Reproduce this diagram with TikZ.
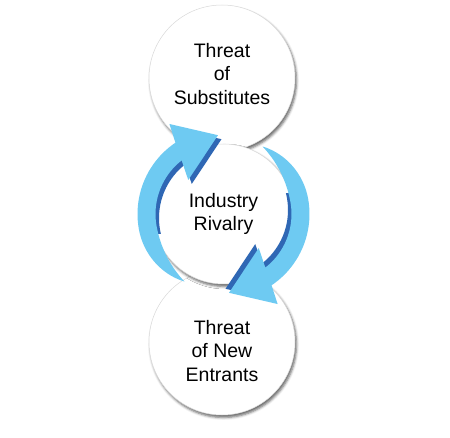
\documentclass[tikz,border=0pt]{standalone}
\usepackage{fontspec}
\setmainfont{Liberation Sans}
\usetikzlibrary{shadows.blur}

\definecolor{arrowlight}{RGB}{110,202,242}
\definecolor{arrowdark}{RGB}{47,103,180}

% one curved arrow, around the origin of the current scope; the tail tapers to a point
\def\arrowpath{plot[domain=240:124, samples=45, variable=\t]
        (\t:{86-8*(max(0,\t-190)/50)^2})
    -- (121:105pt) -- (94:79pt) -- (136:49pt)
    -- plot[domain=128:240, samples=45, variable=\t]
        (\t:{68+10*(max(0,\t-190)/50)^2})
    -- cycle}

\begin{document}
\begin{tikzpicture}[
    x = 1pt, y = 1pt,
    force/.style = {
        circle, fill = white, draw = black!15, line width = 0.5pt,
        minimum size = 146pt, inner sep = 0pt,
        blur shadow = {shadow xshift = 1.5pt, shadow yshift = -2.5pt,
            shadow blur radius = 2.5pt, shadow opacity = 60}
    },
    hubforce/.style = {force, minimum size = 140pt},
    forcetext/.style = {align = center, font = \fontsize{19.5}{23.5}\selectfont},
    arrowface/.style = {fill = arrowlight},
    arrowside/.style = {fill = arrowdark}
]
\useasboundingbox (0,0) rectangle (450,437);

\node[force] (subst) at (222,359) {};
\node[force] (entrants) at (222,95) {};
\node[hubforce, forcetext] (rivalry) at (223.5,223) {Industry\\Rivalry};

\foreach \turn in {0,180} {
    \begin{scope}[shift = {(rivalry.center)}, rotate = \turn]
        \begin{scope}
            \clip (-120,-20) rectangle (40,120);
            \fill[arrowside, shift = {(3.5,-4)}] \arrowpath;
        \end{scope}
        \fill[arrowface] \arrowpath;
    \end{scope}
}

\node[forcetext] (substtext) at ([yshift = 4pt]subst.center) {Threat\\of\\Substitutes};
\node[forcetext] (entrantstext) at ([yshift = -9pt]entrants.center) {Threat\\of New\\Entrants};

\end{tikzpicture}
\end{document}
